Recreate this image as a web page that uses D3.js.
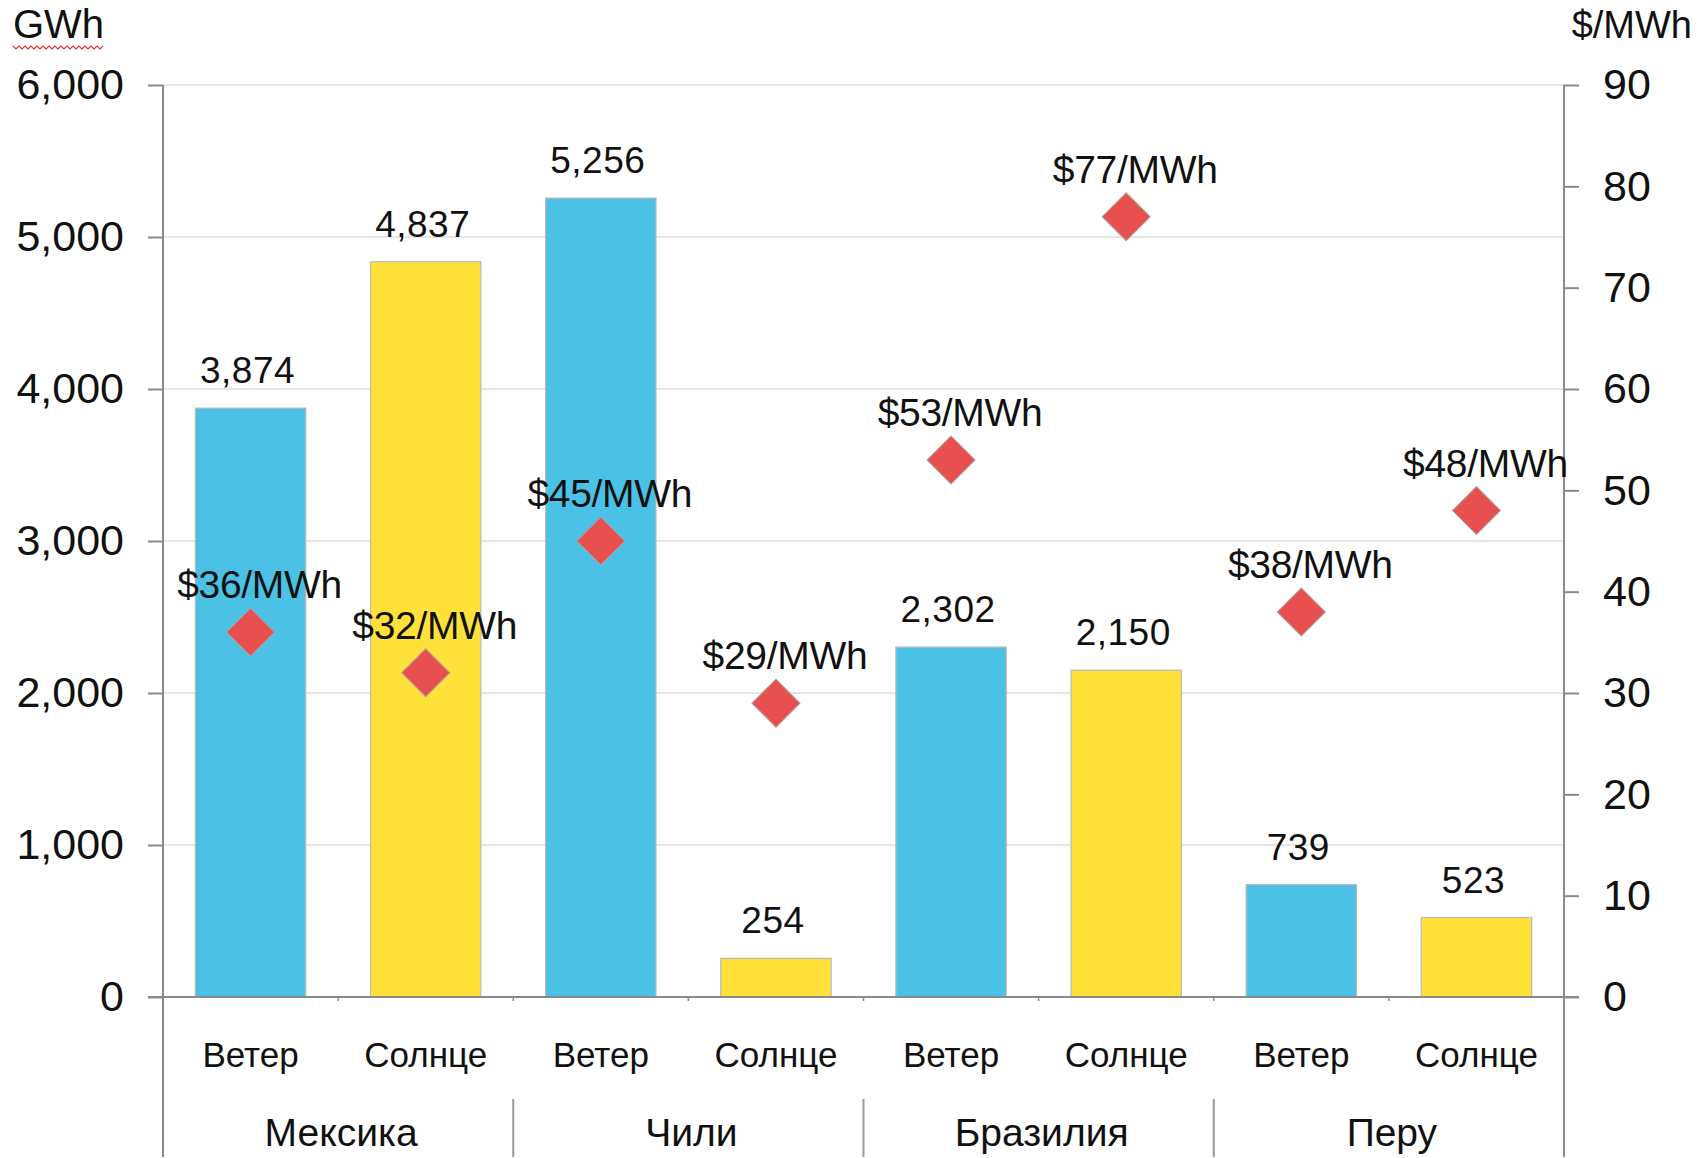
<!DOCTYPE html>
<html>
<head>
<meta charset="utf-8">
<script src="https://cdn.jsdelivr.net/npm/d3@7"></script>
<style>
  html, body { margin: 0; padding: 0; background: #fff; }
  svg { display: block; }
  text { font-family: "Liberation Sans", Arial, sans-serif; fill: #111; }
</style>
</head>
<body>
<svg id="chart" width="1698" height="1158"></svg>
<script>
// ---- data ----
const groups = ["Мексика", "Чили", "Бразилия", "Перу"];
const types = ["Ветер", "Солнце"];
const generation = [3874, 4837, 5256, 254, 2302, 2150, 739, 523];   // GWh
const prices = [36, 32, 45, 29, 53, 77, 38, 48];                     // $/MWh
const leftTicks = [0, 1000, 2000, 3000, 4000, 5000, 6000];
const rightTicks = [0, 10, 20, 30, 40, 50, 60, 70, 80, 90];
const typeColors = ["#4BC1E6", "#FFE13A"];

// ---- build rows ----
const rows = [];
groups.forEach((g, gi) => types.forEach((t, ti) => {
  const i = gi * types.length + ti;
  rows.push({ key: g + "|" + t, group: g, type: t, ti, gen: generation[i], price: prices[i] });
}));

const svg = d3.select("#chart");
const L = 163, R = 1564, T = 85, B = 997;

const x = d3.scaleBand().domain(rows.map(d => d.key)).range([L, R])
  .paddingInner(0.37).paddingOuter(0.185);
const yL = d3.scaleLinear().domain([0, 6000]).range([B, T]);
const yR = d3.scaleLinear().domain([0, 90]).range([B, T]);

// gridlines
svg.append("g").selectAll("line").data(leftTicks.filter(d => d > 0)).join("line")
  .attr("x1", L).attr("x2", R)
  .attr("y1", d => yL(d)).attr("y2", d => yL(d))
  .attr("stroke", "#dcdcdc").attr("stroke-width", 1.5);

// bars
svg.append("g").selectAll("rect").data(rows).join("rect")
  .attr("x", d => x(d.key)).attr("width", x.bandwidth())
  .attr("y", d => yL(d.gen)).attr("height", d => yL(0) - yL(d.gen))
  .attr("fill", d => typeColors[d.ti])
  .attr("stroke", "#b8b8b8").attr("stroke-width", 1.2);

// bar value labels
svg.append("g").selectAll("text").data(rows).join("text")
  .attr("x", d => x(d.key) + x.bandwidth() / 2 - 3)
  .attr("y", d => yL(d.gen) - 25)
  .attr("text-anchor", "middle")
  .attr("font-size", 37)
  .attr("letter-spacing", 0.5)
  .text(d => d3.format(",")(d.gen));

// left axis
const axL = svg.append("g").attr("transform", `translate(${L},0)`)
  .call(d3.axisLeft(yL).tickValues(leftTicks).tickFormat(d3.format(",")).tickSize(15).tickPadding(24));
axL.select(".domain").remove();
axL.selectAll(".tick line").attr("stroke", "#8a8a8a").attr("stroke-width", 2);
axL.selectAll(".tick text").attr("font-size", 43).attr("font-family", "Liberation Sans, Arial, sans-serif").attr("fill", "#111");

// right axis
const axR = svg.append("g").attr("transform", `translate(${R},0)`)
  .call(d3.axisRight(yR).tickValues(rightTicks).tickSize(15).tickPadding(24));
axR.select(".domain").remove();
axR.selectAll(".tick line").attr("stroke", "#8a8a8a").attr("stroke-width", 2);
axR.selectAll(".tick text").attr("font-size", 43).attr("font-family", "Liberation Sans, Arial, sans-serif").attr("fill", "#111");

// vertical axis lines (extend through category label area)
svg.append("line").attr("x1", L).attr("x2", L).attr("y1", T).attr("y2", 1157)
  .attr("stroke", "#8a8a8a").attr("stroke-width", 2);
svg.append("line").attr("x1", R).attr("x2", R).attr("y1", T).attr("y2", 1157)
  .attr("stroke", "#8a8a8a").attr("stroke-width", 2);

// x axis baseline
svg.append("line").attr("x1", L - 15).attr("x2", R + 15).attr("y1", B).attr("y2", B)
  .attr("stroke", "#8a8a8a").attr("stroke-width", 2);

// small category boundary ticks
const step = x.step();
svg.append("g").selectAll("line").data(rows.slice(1)).join("line")
  .attr("x1", d => x(d.key) - step * x.paddingInner() / 2)
  .attr("x2", d => x(d.key) - step * x.paddingInner() / 2)
  .attr("y1", B).attr("y2", B + 4)
  .attr("stroke", "#8a8a8a").attr("stroke-width", 1.5);

// category labels
svg.append("g").selectAll("text").data(rows).join("text")
  .attr("x", d => x(d.key) + x.bandwidth() / 2)
  .attr("y", 1067)
  .attr("text-anchor", "middle")
  .attr("font-size", 35)
  .text(d => d.type);

// group separators and labels
const groupSpan = g => {
  const ks = rows.filter(d => d.group === g).map(d => d.key);
  const x0 = x(ks[0]) - step * x.paddingInner() / 2;
  const x1 = x(ks[ks.length - 1]) + x.bandwidth() + step * x.paddingInner() / 2;
  return [Math.max(L, x0), Math.min(R, x1)];
};
svg.append("g").selectAll("line").data(groups.slice(1)).join("line")
  .attr("x1", g => groupSpan(g)[0]).attr("x2", g => groupSpan(g)[0])
  .attr("y1", 1099).attr("y2", 1157)
  .attr("stroke", "#9a9a9a").attr("stroke-width", 2);
svg.append("g").selectAll("text").data(groups).join("text")
  .attr("x", g => (groupSpan(g)[0] + groupSpan(g)[1]) / 2 + 3)
  .attr("y", 1146)
  .attr("text-anchor", "middle")
  .attr("font-size", 39)
  .text(g => g);

// price diamonds
svg.append("g").selectAll("path").data(rows).join("path")
  .attr("transform", d => `translate(${x(d.key) + x.bandwidth() / 2},${yR(d.price)}) rotate(45)`)
  .attr("d", d3.symbol(d3.symbolSquare, 34 * 34)())
  .attr("fill", "#E8504F")
  .attr("stroke", "#b0a0a0").attr("stroke-width", 1);

// price labels
svg.append("g").selectAll("text").data(rows).join("text")
  .attr("x", d => x(d.key) + x.bandwidth() / 2 + 9)
  .attr("y", d => yR(d.price) - 34)
  .attr("text-anchor", "middle")
  .attr("font-size", 39)
  .attr("letter-spacing", -0.3)
  .text(d => "$" + d.price + "/MWh");

// axis titles
svg.append("text").attr("x", 13).attr("y", 38).attr("font-size", 40).text("GWh");
svg.append("text").attr("x", 1692).attr("y", 38).attr("text-anchor", "end").attr("font-size", 38).text("$/MWh");

// spell-check squiggle under GWh (decorative, as in the reference)
(function () {
  let p = "M13,46";
  for (let xx = 13, k = 0; xx < 103; xx += 3, k++) p += ` L${xx + 3},${k % 2 ? 46 : 49}`;
  svg.append("path").attr("d", p).attr("fill", "none").attr("stroke", "#e03030").attr("stroke-width", 1.2);
})();
</script>
</body>
</html>
